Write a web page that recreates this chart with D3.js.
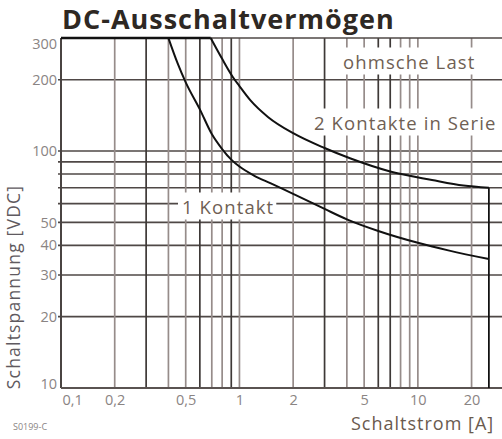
<!DOCTYPE html>
<html lang="de">
  <head>
    <meta charset="UTF-8" />
    <title>DC-Ausschaltvermögen</title>
    <style>
      body { margin: 0; background: #fff; }
      text { font-family: 'Open Sans', sans-serif; }
    </style>
  </head>
  <body>
    <script src="https://d3js.org/d3.v7.min.js"></script>
    <script>
      // Schaltstrom [A] / Schaltspannung [VDC]
      const oneContactCurrent = [0.40, 0.45, 0.50, 0.60, 0.70, 0.80, 0.90, 1.0, 1.2, 1.5, 2, 3, 4, 6, 10, 15, 25]
      const oneContactVoltage = [300, 235, 195, 150, 118, 102, 92, 86, 79, 73, 66, 57, 51.5, 46, 41, 38, 35]

      const twoContactCurrent = [0.69, 0.8, 0.92, 1.0, 1.15, 1.45, 2, 3, 4.2, 7, 12, 18, 25]
      const twoContactVoltage = [300, 245, 205, 188, 164, 139, 119, 103, 93, 82, 75.5, 71.5, 70]

      const currentTicks = [0.1, 0.2, 0.5, 1, 2, 5, 10, 20]
      const currentTickLabels = ['0,1', '0,2', '0,5', '1', '2', '5', '10', '20']
      const voltageTicks = [10, 20, 30, 40, 50, 100, 200, 300]

      const currentGrid = [0.2, 0.3, 0.4, 0.5, 0.6, 0.7, 0.8, 0.9, 1, 2, 3, 4, 5, 6, 7, 8, 9, 10, 20]
      const voltageGrid = [20, 30, 40, 50, 60, 70, 80, 90, 100, 200]
      const darkGrid = [0.3, 0.6, 0.9, 3, 6, 7]

      const width = 502
      const height = 439

      const svg = d3.select('body').append('svg')
        .attr('width', width).attr('height', height)

      const x = d3.scaleLog().domain([0.1, 30]).range([61, 503])
      const y = d3.scaleLog().domain([10, 300]).range([388, 38])

      const gridG = svg.append('g')

      gridG.selectAll('line.h')
        .data(voltageGrid)
        .enter().append('line')
        .attr('class', 'h')
        .attr('x1', x(0.1) - 3).attr('x2', width)
        .attr('y1', d => y(d)).attr('y2', d => y(d))
        .attr('stroke', '#4f4846').attr('stroke-width', 1.6)

      gridG.selectAll('line.v')
        .data(currentGrid)
        .enter().append('line')
        .attr('class', 'v')
        .attr('x1', d => x(d)).attr('x2', d => x(d))
        .attr('y1', y(300)).attr('y2', y(10))
        .attr('stroke', d => darkGrid.includes(d) ? '#3e3937' : '#968c8a')
        .attr('stroke-width', 1.7)

      // text labels with white boxes
      const labels = [
        { t: 'ohmsche Last', x: 343, cy: 61 },
        { t: '2 Kontakte in Serie', x: 314, cy: 122 },
        { t: '1 Kontakt', x: 182, cy: 206 }
      ]
      const labelG = svg.append('g')
      labels.forEach(l => {
        const g = labelG.append('g')
        const rect = g.append('rect').attr('fill', '#fff')
        const txt = g.append('text')
          .attr('x', l.x).attr('y', l.cy)
          .attr('dominant-baseline', 'central')
          .attr('font-size', 18.5)
          .attr('letter-spacing', 1.1)
          .attr('fill', '#6f5f54')
          .text(l.t)
        const b = txt.node().getBBox()
        rect.attr('x', b.x - 4).attr('y', b.y - 1)
          .attr('width', b.width + 6).attr('height', b.height + 2)
      })

      // axes frame
      svg.append('line')
        .attr('x1', x(0.1)).attr('x2', x(0.1))
        .attr('y1', y(300)).attr('y2', y(10))
        .attr('stroke', '#4a4442').attr('stroke-width', 2)
      svg.append('line')
        .attr('x1', x(0.1)).attr('x2', width)
        .attr('y1', y(10)).attr('y2', y(10))
        .attr('stroke', '#5a5351').attr('stroke-width', 2)
      svg.append('line')
        .attr('x1', x(0.1)).attr('x2', width)
        .attr('y1', y(300)).attr('y2', y(300))
        .attr('stroke', '#4f4846').attr('stroke-width', 1.6)

      // curves
      const line = d3.line()
        .x(d => d[0])
        .y(d => d[1])
        .curve(d3.curveMonotoneX)

      const pts = (cs, vs) => cs.map((c, i) => [x(c), y(vs[i])])

      const curveG = svg.append('g')
        .attr('fill', 'none').attr('stroke', '#111').attr('stroke-width', 2)

      // flat part along 300 V
      curveG.append('line')
        .attr('x1', x(0.1)).attr('x2', x(twoContactCurrent[0]))
        .attr('y1', y(300)).attr('y2', y(300))
        .attr('stroke-width', 2.4)

      curveG.append('path').attr('d', line(pts(oneContactCurrent, oneContactVoltage)))
      curveG.append('path').attr('d', line(pts(twoContactCurrent, twoContactVoltage)))

      // vertical end at 25 A
      const last = twoContactCurrent.length - 1
      curveG.append('line')
        .attr('x1', x(twoContactCurrent[last])).attr('x2', x(twoContactCurrent[last]))
        .attr('y1', y(twoContactVoltage[last])).attr('y2', y(10))
        .attr('stroke-width', 1.8)

      // tick labels
      const xAxis = g => g
        .attr('transform', `translate(0,${y(10)})`)
        .call(d3.axisBottom(x).tickValues(currentTicks).tickSize(0).tickPadding(7)
          .tickFormat((d, i) => currentTickLabels[i]))
        .call(g => g.select('.domain').remove())

      const yAxis = g => g
        .attr('transform', `translate(${x(0.1)},0)`)
        .call(d3.axisLeft(y).tickValues(voltageTicks).tickSize(0).tickPadding(4)
          .tickFormat(d3.format('d')))
        .call(g => g.select('.domain').remove())

      const xg = svg.append('g').call(xAxis)
      const yg = svg.append('g').call(yAxis)

      ;[xg, yg].forEach(g => g.selectAll('text')
        .attr('font-family', "'Liberation Sans', sans-serif")
        .attr('font-size', 14.5)
        .attr('fill', '#8a8483'))

      xg.selectAll('text').filter(d => d === 0.1).attr('text-anchor', 'start').attr('dx', 1)
      yg.selectAll('text').filter(d => d === 300).attr('dy', '0.75em')
      yg.selectAll('text').filter(d => d === 10).attr('dy', '0')

      // titles
      svg.append('text')
        .attr('x', 62).attr('y', 29)
        .attr('font-size', 27).attr('font-weight', 'bold')
        .attr('letter-spacing', 1)
        .attr('fill', '#2e2823')
        .text('DC-Ausschaltvermögen')

      svg.append('text')
        .attr('x', 351).attr('y', 430)
        .attr('font-size', 18)
        .attr('letter-spacing', 1)
        .attr('fill', '#6a5a4e')
        .text('Schaltstrom [A]')

      svg.append('text')
        .attr('transform', 'translate(20,287) rotate(-90)')
        .attr('text-anchor', 'middle')
        .attr('font-size', 17.5)
        .attr('letter-spacing', 1.2)
        .attr('fill', '#5f5a60')
        .text('Schaltspannung [VDC]')

      svg.append('text')
        .attr('x', 13).attr('y', 430)
        .attr('font-family', "'Liberation Sans Narrow', 'Liberation Sans', sans-serif")
        .attr('font-size', 9)
        .attr('fill', '#8a8483')
        .text('S0199-C')
    </script>
  </body>
</html>
